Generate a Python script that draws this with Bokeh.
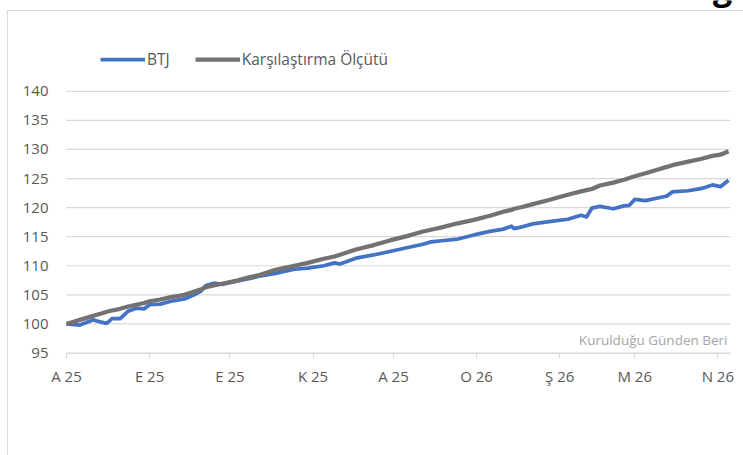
import pandas as pd
from bokeh.plotting import figure
from bokeh.models import (ColumnDataSource, Legend, LegendItem, FixedTicker,
                          Label, Range1d)
from bokeh.embed import file_html
from bokeh.resources import INLINE

# ---------------- data ----------------
dates = ["2025-08-01", "2025-08-06", "2025-08-11", "2025-08-14", "2025-08-16",
         "2025-08-18", "2025-08-21", "2025-08-24", "2025-08-27", "2025-08-30",
         "2025-09-01", "2025-09-05", "2025-09-09", "2025-09-14", "2025-09-18",
         "2025-09-20", "2025-09-22", "2025-09-25", "2025-09-28", "2025-10-04",
         "2025-10-08", "2025-10-12", "2025-10-18", "2025-10-25", "2025-10-30",
         "2025-11-05", "2025-11-09", "2025-11-11", "2025-11-17", "2025-11-24",
         "2025-11-30", "2025-12-06", "2025-12-12", "2025-12-15", "2025-12-19",
         "2025-12-25", "2025-12-31", "2026-01-06", "2026-01-11", "2026-01-14",
         "2026-01-15", "2026-01-18", "2026-01-22", "2026-01-28", "2026-02-04",
         "2026-02-09", "2026-02-11", "2026-02-13", "2026-02-16", "2026-02-21",
         "2026-02-25", "2026-02-27", "2026-03-01", "2026-03-05", "2026-03-10",
         "2026-03-13", "2026-03-15", "2026-03-21", "2026-03-26", "2026-03-30",
         "2026-04-02", "2026-04-05"]

btj = [100.0, 99.8, 100.7, 100.3, 100.1,
       100.9, 100.9, 102.2, 102.7, 102.6,
       103.3, 103.4, 103.9, 104.3, 105.1,
       105.6, 106.6, 107.0, 106.8, 107.4,
       107.8, 108.2, 108.7, 109.4, 109.6,
       110.0, 110.5, 110.3, 111.3, 111.9,
       112.5, 113.1, 113.7, 114.1, 114.3,
       114.6, 115.3, 115.9, 116.3, 116.8,
       116.4, 116.7, 117.2, 117.6, 118.0,
       118.7, 118.4, 119.9, 120.2, 119.8,
       120.3, 120.4, 121.4, 121.2, 121.7,
       122.0, 122.7, 122.9, 123.3, 123.9,
       123.6, 124.7]

benchmark = [100.0, 100.7, 101.4, 101.8, 102.1,
             102.3, 102.6, 103.0, 103.3, 103.6,
             103.9, 104.2, 104.6, 105.0, 105.6,
             105.9, 106.3, 106.6, 106.9, 107.5,
             108.0, 108.4, 109.3, 110.0, 110.5,
             111.2, 111.6, 111.9, 112.8, 113.6,
             114.4, 115.1, 115.9, 116.2, 116.6,
             117.3, 117.9, 118.6, 119.3, 119.6,
             119.8, 120.1, 120.6, 121.3, 122.2,
             122.8, 123.0, 123.2, 123.8, 124.3,
             124.8, 125.1, 125.4, 125.9, 126.6,
             127.0, 127.3, 127.9, 128.4, 128.9,
             129.1, 129.7]

tick_dates = ["2025-08-01", "2025-09-01", "2025-10-01", "2025-11-01", "2025-12-01",
              "2026-01-01", "2026-02-01", "2026-03-01", "2026-04-01"]
tick_labels = ["A 25", "E 25", "E 25", "K 25", "A 25", "O 26", "Ş 26", "M 26", "N 26"]
y_ticks = [95, 100, 105, 110, 115, 120, 125, 130, 135, 140]

series_names = ["BTJ", "Karşılaştırma Ölçütü"]
note_text = "Kurulduğu Günden Beri"

# ---------------- layout constants (pixels) ----------------
W, H = 743, 455
PLOT_L, PLOT_R = 66, 730             # plot area horizontally
Y_LO_PX, Y_HI_PX = 352.5, 90.8       # pixel rows of the lowest / highest y tick
X_TICK_LAST_PX = 717.3               # pixel column of the last x tick

FONT = "Open Sans"
LABEL_COLOR = "#595959"
GRID = "#d9d9d9"

# ---------------- ranges (frame = whole canvas) ----------------
x_start = pd.Timestamp(tick_dates[0])
x_last_tick = pd.Timestamp(tick_dates[-1])
px_per_ms = (X_TICK_LAST_PX - PLOT_L) / ((x_last_tick - x_start).total_seconds() * 1000)
x_plot_end = x_start + pd.Timedelta(milliseconds=(PLOT_R - PLOT_L) / px_per_ms)
x_range_start = x_start - pd.Timedelta(milliseconds=PLOT_L / px_per_ms)
x_range_end = x_start + pd.Timedelta(milliseconds=(W - PLOT_L) / px_per_ms)

y_lo, y_hi = y_ticks[0], y_ticks[-1]
px_per_unit = (Y_LO_PX - Y_HI_PX) / (y_hi - y_lo)
y_top = y_hi + Y_HI_PX / px_per_unit
y_bottom = y_lo - (H - Y_LO_PX) / px_per_unit

src = ColumnDataSource(dict(date=pd.to_datetime(dates), btj=btj, bench=benchmark))
grid_src = ColumnDataSource(dict(x0=[x_start] * len(y_ticks),
                                 x1=[x_plot_end] * len(y_ticks),
                                 y=y_ticks))

p = figure(width=W, height=H, x_axis_type="datetime",
           x_range=Range1d(x_range_start, x_range_end),
           y_range=Range1d(y_bottom, y_top),
           output_backend="svg", toolbar_location=None,
           min_border_left=0, min_border_right=0,
           min_border_top=0, min_border_bottom=0,
           background_fill_color=None, border_fill_color=None,
           outline_line_color=None)

# outer chart border (light grey, clipped by the window) drawn by CSS
p.styles = {
    "background": ("linear-gradient(#d9d9d9, #d9d9d9) 7px 10px / 1px 100% no-repeat, "
                   "linear-gradient(#d9d9d9, #d9d9d9) 7px 10px / 100% 1px no-repeat, "
                   "#ffffff"),
}

# horizontal gridlines at the y ticks, limited to the plot area
p.segment(x0="x0", y0="y", x1="x1", y1="y", source=grid_src,
          line_color=GRID, line_width=1.2)

r1 = p.line("date", "btj", source=src, line_color="#4472C4", line_width=3.75,
            line_join="round")
r2 = p.line("date", "bench", source=src, line_color="#767171", line_width=4.25,
            line_join="round")

# x axis (drawn at y = 95, limited to the plot area)
tick_ms = [int(pd.Timestamp(d).value // 10**6) for d in tick_dates]
p.xaxis.fixed_location = y_lo
p.xaxis.bounds = (x_start, x_plot_end)
p.xaxis.ticker = FixedTicker(ticks=tick_ms)
p.xaxis.major_label_overrides = {t: l for t, l in zip(tick_ms, tick_labels)}
p.xaxis.axis_line_color = GRID
p.xaxis.axis_line_width = 1.2
p.xaxis.major_tick_line_color = GRID
p.xaxis.major_tick_in = 0
p.xaxis.major_tick_out = 5
p.xaxis.minor_tick_line_color = None
p.xaxis.major_label_standoff = 8
p.xaxis.major_label_text_font = FONT
p.xaxis.major_label_text_font_size = "15px"
p.xaxis.major_label_text_color = LABEL_COLOR

# y axis (drawn at the first date)
p.yaxis.fixed_location = float(tick_ms[0])
p.yaxis.ticker = FixedTicker(ticks=y_ticks)
p.yaxis.axis_line_color = None
p.yaxis.major_tick_line_color = None
p.yaxis.minor_tick_line_color = None
p.yaxis.major_tick_out = 0
p.yaxis.major_tick_in = 0
p.yaxis.major_label_standoff = 18
p.yaxis.major_label_text_font = FONT
p.yaxis.major_label_text_font_size = "15px"
p.yaxis.major_label_text_color = LABEL_COLOR

p.xgrid.grid_line_color = None
p.ygrid.grid_line_color = None

# legend (above the plot area)
legend = Legend(items=[LegendItem(label=series_names[0], renderers=[r1]),
                       LegendItem(label=series_names[1], renderers=[r2])],
                orientation="horizontal", location=(100, H - 70),
                glyph_width=45, glyph_height=20, label_standoff=2, spacing=25,
                padding=0, margin=0, border_line_color=None,
                background_fill_alpha=0,
                label_text_font=FONT, label_text_font_size="15.5px",
                label_text_color=LABEL_COLOR)
p.add_layout(legend, "center")

# annotation text
p.add_layout(Label(x=727, y=339, x_units="canvas", y_units="canvas",
                   text=note_text, text_align="right", text_baseline="alphabetic",
                   text_font=FONT, text_font_size="13.5px",
                   text_color="#a6a6a6"))

# clipped title fragment at top right
p.add_layout(Label(x=722, y=-14, x_units="canvas", y_units="canvas",
                   text="g", text_align="center", text_baseline="alphabetic",
                   text_font=FONT, text_font_size="34px",
                   text_font_style="bold", text_color="black"))

open("out.html", "w").write(file_html(p, INLINE))
